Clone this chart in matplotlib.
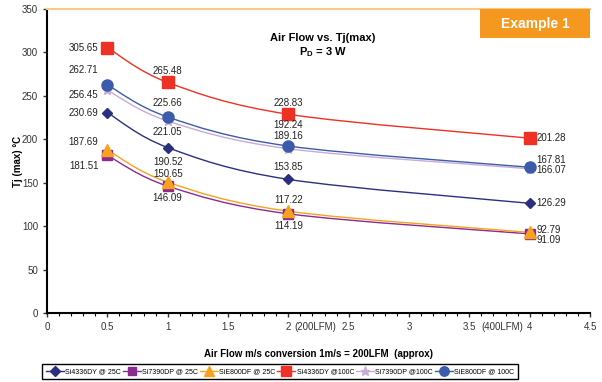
import numpy as np
import matplotlib
matplotlib.use("Agg")
import matplotlib.pyplot as plt
from matplotlib.path import Path
from matplotlib.patches import PathPatch, Rectangle
from matplotlib.lines import Line2D
from matplotlib.ticker import MultipleLocator

plt.rcParams['font.family'] = ['Liberation Sans', 'DejaVu Sans']

# air flow in m/s
air_flow = [0.5, 1, 2, 4]

series_names = ["Si4336DY @ 25C", "Si7390DP @ 25C", "SiE800DF @ 25C",
                "Si4336DY @100C", "Si7390DP @100C", "SiE800DF @ 100C"]
si4336_25 = [230.69, 190.52, 153.85, 126.29]
si7390_25 = [181.51, 146.09, 114.19, 91.09]
sie800_25 = [187.69, 150.65, 117.22, 92.79]
si4336_100 = [305.65, 265.48, 228.83, 201.28]
si7390_100 = [256.45, 221.05, 189.16, 166.07]
sie800_100 = [262.71, 225.66, 192.24, 167.81]
all_series = [si4336_25, si7390_25, sie800_25, si4336_100, si7390_100, sie800_100]

colors = ["#2b2f80", "#8d2a91", "#f6a21d", "#ee3124", "#c8aad8", "#3b5caa"]
markers = ["D", "s", "^", "s", "*", "o"]
msizes = [5.5, 7.5, 8, 8, 8, 8]

# label offsets in pixels (dx, dy) for each point of each series
label_offsets = [
    [(-9, 0), (0, -14), (0, 12), (7, 0)],
    [(-9, -11), (0, -12), (0, -12), (7, -6)],
    [(-9, 8), (0, 8), (0, 11), (7, 2)],
    [(-9, 0), (0, 11), (0, 11), (7, 0)],
    [(-9, -5), (0, -11), (0, 13), (7, -1)],
    [(-9, 15), (0, 14), (0, 21), (7, 7)],
]


def smooth_path(xs, ys):
    # Excel-like smoothed line via cubic bezier segments
    p = np.column_stack([xs, ys]).astype(float)
    ext = np.vstack([p[0], p, p[-1]])
    verts = [p[0]]
    codes = [Path.MOVETO]
    for i in range(len(p) - 1):
        c1 = ext[i + 1] + (ext[i + 2] - ext[i]) / 6.0
        c2 = ext[i + 2] - (ext[i + 3] - ext[i + 1]) / 6.0
        verts += [c1, c2, p[i + 1]]
        codes += [Path.CURVE4] * 3
    return Path(verts, codes)


fig = plt.figure(figsize=(6.02, 3.82), dpi=100)
ax = fig.add_axes([47 / 602, 1 - 313 / 382, 543 / 602, 304 / 382])

for vals, c, m, ms in zip(all_series, colors, markers, msizes):
    ax.add_patch(PathPatch(smooth_path(air_flow, vals), fill=False, edgecolor=c, lw=1.0, zorder=2))
    ax.plot(air_flow, vals, ls='none', marker=m, ms=ms, color=c, mec=c, zorder=3)

for vals, offs in zip(all_series, label_offsets):
    for xv, yv, (dx, dy) in zip(air_flow, vals, offs):
        ha = 'right' if xv == air_flow[0] else ('left' if xv == air_flow[-1] else 'center')
        ax.annotate(f"{yv:.2f}", (xv, yv), xytext=(dx, dy), textcoords='offset pixels',
                    ha=ha, va='center', fontsize=7, color='#222222', zorder=4)

ax.set_xlim(0, 4.5)
ax.set_ylim(0, 350)
ax.set_xticks([0, 0.5, 1, 1.5, 2, 2.5, 3, 3.5, 4, 4.5])
ax.set_xticklabels(["0", "0.5", "1", "1.5", "2", "2.5", "3", "3.5", "4", "4.5"])
ax.xaxis.set_minor_locator(MultipleLocator(0.1))
ax.yaxis.set_major_locator(MultipleLocator(50))
ax.tick_params(axis='both', labelsize=7, colors='#333333', length=3, width=1, direction='out')
ax.tick_params(axis='x', which='minor', length=2, width=0.8)
ax.spines['right'].set_visible(False)
ax.spines['top'].set_color('#f8c98a')
ax.spines['top'].set_linewidth(1.5)
ax.spines['left'].set_linewidth(1.5)
ax.spines['bottom'].set_linewidth(1.5)

trans = ax.get_xaxis_transform()
ax.annotate("(200LFM)", (2, 0), xycoords=trans, xytext=(6, -9), textcoords='offset pixels',
            ha='left', va='top', fontsize=7, color='#333333')
ax.annotate("(400LFM)", (4, 0), xycoords=trans, xytext=(-6, -9), textcoords='offset pixels',
            ha='right', va='top', fontsize=7, color='#333333')

ax.set_ylabel("Tj (max) °C", fontsize=7, fontweight='bold')
ax.yaxis.set_label_coords(-0.045, 0.5)
ax.set_xlabel("Air Flow m/s conversion 1m/s = 200LFM  (approx)", fontsize=7, fontweight='bold', labelpad=12)

ax.text(0.508, 0.895, "Air Flow vs. Tj(max)", transform=ax.transAxes, ha='center', fontsize=8, fontweight='bold')
ax.text(0.508, 0.848, "P$_\\mathregular{D}$ = 3 W", transform=ax.transAxes, ha='center', fontsize=8, fontweight='bold')

fig.add_artist(Rectangle((480 / 602, 1 - 38 / 382), 110 / 602, 29 / 382, transform=fig.transFigure,
                         fc='#f5981f', ec='none', zorder=5))
fig.text(535 / 602, 1 - 24 / 382, "Example 1", ha='center', va='center', fontsize=10, fontweight='bold',
         color='white', zorder=6)

handles = [Line2D([], [], color=c, marker=m, ms=ms * 0.85, lw=1.0) for c, m, ms in zip(colors, markers, msizes)]
fig.legend(handles, series_names, loc='lower left', bbox_to_anchor=(42 / 602, 3 / 382), ncol=6,
           fontsize=5.0, frameon=True, fancybox=False, edgecolor='black', framealpha=1,
           handlelength=2.6, handletextpad=0.2, columnspacing=0.25, borderpad=0.55,
           borderaxespad=0)

fig.savefig("out.png", dpi=100)
